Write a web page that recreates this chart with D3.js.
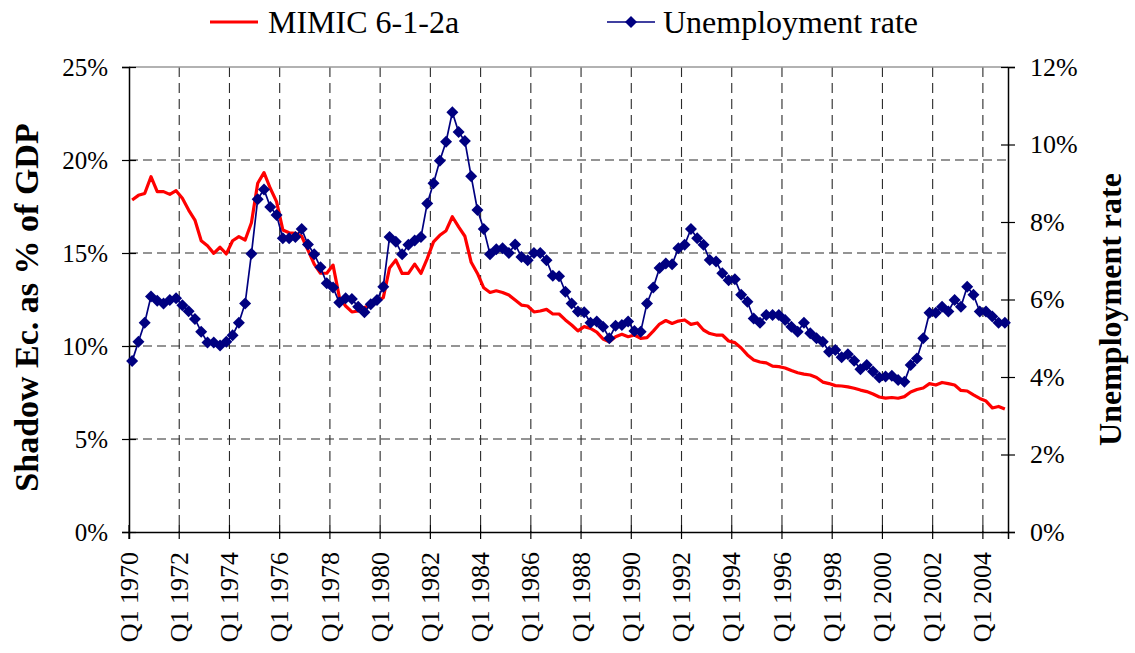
<!DOCTYPE html>
<html><head><meta charset="utf-8">
<script src="https://cdn.jsdelivr.net/npm/d3@7"></script>
<style>
body{margin:0;background:#fff;}
svg{display:block;font-family:"Liberation Serif","Times New Roman",serif;}
</style></head>
<body><svg id="chart" width="1135" height="653"></svg>
<script>
// ---- data ----
const startYear = 1970, endYear = 2004;
const seriesNames = ["MIMIC 6-1-2a", "Unemployment rate"];
const shadowEconomy = [
17.85,18.1,18.2,19.1, 18.3,18.3,18.15,18.35, 17.94,17.31,16.77,15.66, 15.39,14.98,15.31,14.95,
15.66,15.88,15.70,16.63, 18.75,19.32,18.48,17.76, 16.24,16.09,16.06,15.90, 15.16,14.40,13.91,13.91,
14.35,12.63,12.15,11.83, 11.88,12.07,12.20,12.38, 12.60,14.20,14.62,13.90, 13.90,14.40,13.90,14.70,
15.60,15.95,16.20,16.95, 16.40,15.90,14.50,13.90, 13.13,12.88,12.97,12.88, 12.74,12.47,12.20,12.15,
11.83,11.88,11.97,11.72, 11.72,11.40,11.13,10.81, 11.04,10.95,10.75,10.38, 10.23,10.50,10.63,10.50,
10.59,10.41,10.45,10.80, 11.18,11.37,11.21,11.34, 11.40,11.16,11.24,10.86, 10.67,10.59,10.59,10.27,
10.18,9.89,9.52,9.25, 9.14,9.09,8.92,8.89, 8.82,8.68,8.56,8.49, 8.44,8.31,8.06,7.98,
7.87,7.85,7.80,7.73, 7.63,7.55,7.42,7.26, 7.20,7.23,7.19,7.28, 7.53,7.66,7.74,7.98,
7.90,8.04,7.98,7.90, 7.61,7.58,7.37,7.18, 7.04,6.67,6.75,6.61
];
const unemployment = [
4.41,4.91,5.40,6.08, 5.97,5.90,5.99,6.03, 5.85,5.70,5.50,5.17, 4.89,4.89,4.81,4.91,
5.08,5.40,5.90,7.18, 8.59,8.84,8.39,8.18, 7.58,7.58,7.61,7.82, 7.42,7.17,6.83,6.42,
6.31,5.92,6.03,6.01, 5.81,5.67,5.88,5.99, 6.33,7.61,7.49,7.17, 7.41,7.52,7.61,8.48,
9.00,9.58,10.07,10.83, 10.32,10.09,9.18,8.31, 7.82,7.17,7.30,7.32, 7.20,7.42,7.10,7.01,
7.20,7.20,7.01,6.61, 6.60,6.20,5.90,5.69, 5.67,5.40,5.43,5.30, 5.00,5.32,5.34,5.43,
5.19,5.17,5.90,6.31, 6.81,6.93,6.91,7.32, 7.41,7.82,7.58,7.41, 7.02,6.98,6.68,6.50,
6.52,6.12,5.94,5.51, 5.40,5.60,5.60,5.60, 5.47,5.30,5.17,5.40, 5.13,5.00,4.91,4.65,
4.70,4.51,4.59,4.42, 4.20,4.31,4.14,3.99, 4.01,4.03,3.92,3.88, 4.31,4.48,5.00,5.66,
5.66,5.81,5.69,5.99, 5.81,6.33,6.12,5.69, 5.69,5.56,5.40,5.40
];
const xTickLabels = ["Q1 1970","Q1 1972","Q1 1974","Q1 1976","Q1 1978","Q1 1980","Q1 1982","Q1 1984","Q1 1986","Q1 1988","Q1 1990","Q1 1992","Q1 1994","Q1 1996","Q1 1998","Q1 2000","Q1 2002","Q1 2004"];
const leftTicks = [0,5,10,15,20,25];
const rightTicks = [0,2,4,6,8,10,12];
const leftTitle = "Shadow Ec. as % of GDP";
const rightTitle = "Unemployment rate";

// categories
const categories = [];
for (let y = startYear; y <= endYear; y++) for (let q = 1; q <= 4; q++) categories.push("Q" + q + " " + y);

// ---- layout ----
const L = 129, R = 1008, T = 67, B = 532;
const svg = d3.select("#chart");
const x = d3.scaleBand().domain(categories).range([L, R]).padding(0);
const yL = d3.scaleLinear().domain([0, 25]).range([B, T]);
const yR = d3.scaleLinear().domain([0, 12]).range([B, T]);
const cx = c => x(c) + x.bandwidth() / 2;

const gridColor = "#2a2a2a";
// horizontal gridlines
svg.append("g").selectAll("line").data(leftTicks.filter(d => d > 0 && d < 25)).join("line")
  .attr("x1", L).attr("x2", R).attr("y1", d => yL(d)).attr("y2", d => yL(d))
  .attr("stroke", gridColor).attr("stroke-width", 1.1).attr("stroke-dasharray", "9,5");
// vertical gridlines
svg.append("g").selectAll("line").data(xTickLabels.slice(1)).join("line")
  .attr("x1", d => x(d)).attr("x2", d => x(d)).attr("y1", T).attr("y2", B)
  .attr("stroke", gridColor).attr("stroke-width", 1.1).attr("stroke-dasharray", "10,6");
// top border
svg.append("line").attr("x1", L).attr("x2", R).attr("y1", T).attr("y2", T)
  .attr("stroke", "#999").attr("stroke-width", 1.5);

// axes
const fs = 25;
const axL = svg.append("g").attr("transform", `translate(${L},0)`)
  .call(d3.axisLeft(yL).tickValues(leftTicks).tickFormat(d => d + "%").tickSize(7).tickPadding(14));
const axR = svg.append("g").attr("transform", `translate(${R},0)`)
  .call(d3.axisRight(yR).tickValues(rightTicks).tickFormat(d => d + "%").tickSize(7).tickPadding(15));
const axB = svg.append("g").attr("transform", `translate(0,${B})`)
  .call(d3.axisBottom(x).tickValues(xTickLabels).tickSize(7).tickPadding(4));
[axL, axR, axB].forEach(a => {
  a.select(".domain").attr("stroke", "#000").attr("stroke-width", 1.5);
  a.selectAll(".tick line").attr("stroke", "#000").attr("stroke-width", 1.2);
  a.selectAll("text").attr("font-family", '"Liberation Serif","Times New Roman",serif').attr("font-size", fs).attr("fill", "#000");
});
axR.selectAll("text").attr("font-size", 26);
// cross ticks (extend inwards)
axL.selectAll(".tick").append("line").attr("x1", 0).attr("x2", 7).attr("stroke", "#000").attr("stroke-width", 1.2);
axR.selectAll(".tick").append("line").attr("x1", 0).attr("x2", -7).attr("stroke", "#000").attr("stroke-width", 1.2);
axB.selectAll(".tick").append("line").attr("y1", 0).attr("y2", -7).attr("stroke", "#000").attr("stroke-width", 1.2);
// bottom tick labels rotated & ticks at category boundaries
axB.selectAll(".tick").attr("transform", d => `translate(${x(d)},0)`);
axB.selectAll(".tick text")
  .attr("transform", "rotate(-90)")
  .attr("text-anchor", "end").attr("dy", "0.33em").attr("x", -20).attr("y", 0)
  .attr("font-size", 26);

// axis titles
svg.append("text").attr("transform", `translate(38,${(T + B) / 2 + 8}) rotate(-90)`)
  .attr("text-anchor", "middle").attr("font-weight", "bold").attr("font-size", 34).text(leftTitle);
svg.append("text").attr("transform", `translate(1121,${(T + B) / 2 + 10}) rotate(-90)`)
  .attr("text-anchor", "middle").attr("font-weight", "bold").attr("font-size", 32).text(rightTitle);

// lines
const lineL = d3.line().x((d, i) => cx(categories[i])).y(d => yL(d));
const lineR = d3.line().x((d, i) => cx(categories[i])).y(d => yR(d));
svg.append("path").datum(shadowEconomy).attr("d", lineL).attr("fill", "none")
  .attr("stroke", "#ff0000").attr("stroke-width", 3.2).attr("stroke-linejoin", "round");
svg.append("path").datum(unemployment).attr("d", lineR).attr("fill", "none")
  .attr("stroke", "#000080").attr("stroke-width", 1.7);
const diamond = "M0,-6L6,0L0,6L-6,0Z";
svg.append("g").selectAll("path").data(unemployment).join("path")
  .attr("d", diamond).attr("transform", (d, i) => `translate(${cx(categories[i])},${yR(d)})`)
  .attr("fill", "#000080");

// legend
const lg = svg.append("g");
lg.append("line").attr("x1", 210).attr("x2", 258).attr("y1", 22).attr("y2", 22).attr("stroke", "#ff0000").attr("stroke-width", 3.2);
lg.append("text").attr("x", 268).attr("y", 33).attr("font-size", 32).text(seriesNames[0]);
lg.append("line").attr("x1", 607).attr("x2", 655).attr("y1", 22).attr("y2", 22).attr("stroke", "#000080").attr("stroke-width", 1.7);
lg.append("path").attr("d", diamond).attr("transform", "translate(631,22)").attr("fill", "#000080");
lg.append("text").attr("x", 663).attr("y", 33).attr("font-size", 32).text(seriesNames[1]);
</script></body></html>
